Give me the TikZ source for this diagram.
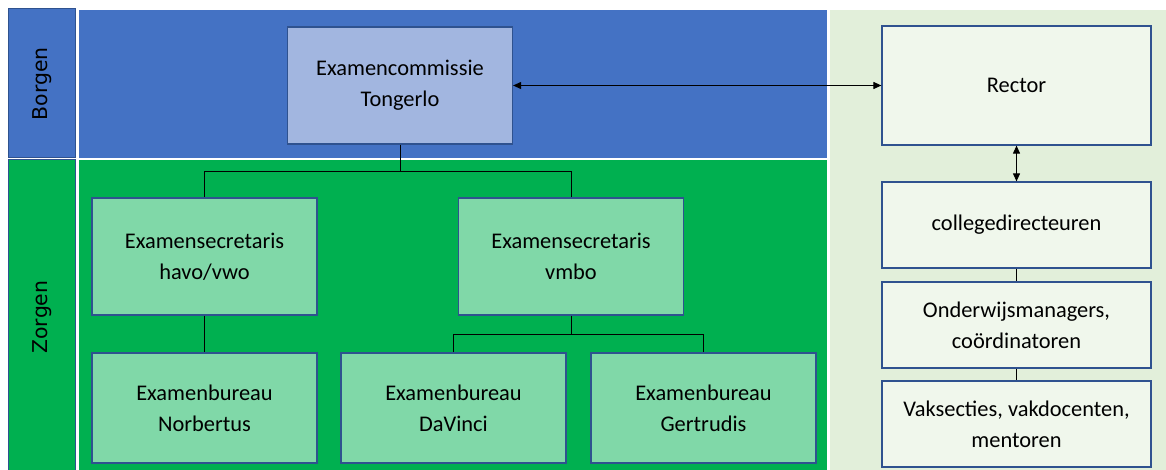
\documentclass[tikz,border=0pt]{standalone}
\usepackage{fontspec}
\setmainfont{Carlito}
\newfontfamily\sidefont{DejaVu Sans}
\usetikzlibrary{arrows.meta}
\definecolor{borgblue}{HTML}{4472C4}
\definecolor{zorggreen}{HTML}{00B050}
\definecolor{commblue}{HTML}{A2B6E0}
\definecolor{bureaugreen}{HTML}{80D8A8}
\definecolor{schoolpanel}{HTML}{E2EFDA}
\definecolor{schoolbox}{HTML}{F0F7EC}
\definecolor{boxline}{HTML}{2F528F}
\tikzstyle{object}=[draw=boxline, line width=0.6pt, align=center, font=\fontsize{11.2}{15.5}\selectfont]
\tikzstyle{bureau}=[object, fill=bureaugreen, minimum width=112.5pt]
\tikzstyle{school}=[object, fill=schoolbox, minimum width=134.5pt, minimum height=43pt]
\tikzstyle{band}=[draw=boxline, line width=0.5pt]
\tikzstyle{link}=[line width=0.5pt]
\tikzstyle{twoway}=[link, {Triangle[length=4pt,width=3.5pt]}-{Triangle[length=4pt,width=3.5pt]}]

\begin{document}
\begin{tikzpicture}[x=0.5pt, y=-0.5pt]
          \useasboundingbox[fill=white] (0,0) rectangle (1166,470);
          % banden
          \fill[borgblue] (79,10) rectangle (827,158);
          \fill[zorggreen] (79,160) rectangle (827,470);
          \fill[schoolpanel] (830,10) rectangle (1166,470);
          \draw[band, fill=borgblue] (8,9) rectangle (75,158);
          \draw[band, fill=zorggreen] (8,160) rectangle (75,471);
          \node[rotate=90, font=\sidefont\fontsize{10.2}{12}\selectfont] (borgen) at (42,84) {Borgen};
          \node[rotate=90, font=\sidefont\fontsize{10.2}{12}\selectfont] (zorgen) at (42,317) {Zorgen};

          % examenlijn
          \node[object, fill=commblue, minimum width=112.5pt, minimum height=58.5pt]
            (commissie) at (400,85.5) {Examencommissie\\Tongerlo};
          \node[bureau, minimum height=58.5pt] (havovwo) at (204.5,256.5) {Examensecretaris\\havo/vwo};
          \node[bureau, minimum height=58.5pt] (vmbo) at (571,256.5) {Examensecretaris\\vmbo};
          \node[bureau, minimum height=55pt] (norbertus) at (204.5,408) {Examenbureau\\Norbertus};
          \node[bureau, minimum height=55pt] (davinci) at (453.5,408) {Examenbureau\\DaVinci};
          \node[bureau, minimum height=55pt] (gertrudis) at (703.5,408) {Examenbureau\\Gertrudis};

          % schoollijn
          \node[school, minimum height=59.5pt] (rector) at (1016.5,85.5) {Rector};
          \node[school] (college) at (1016.5,225) {collegedirecteuren};
          \node[school] (managers) at (1016.5,325) {Onderwijsmanagers,\\coördinatoren};
          \node[school] (secties) at (1016.5,424) {Vaksecties, vakdocenten,\\mentoren};

          \coordinate (splitcomm) at (400,172);
          \coordinate (splitvmbo) at (571,334);
          \draw[link] (commissie.south) -- (splitcomm) -| (havovwo.north);
          \draw[link] (splitcomm) -| (vmbo.north);
          \draw[link] (havovwo.south) -- (norbertus.north);
          \draw[link] (vmbo.south) -- (splitvmbo) -| (davinci.north);
          \draw[link] (splitvmbo) -| (gertrudis.north);
          \draw[twoway] (commissie.east) -- (rector.west);
          \draw[twoway] (rector.south) -- (college.north);
          \draw[link] (college.south) -- (managers.north);
          \draw[link] (managers.south) -- (secties.north);
        \end{tikzpicture}
\end{document}
